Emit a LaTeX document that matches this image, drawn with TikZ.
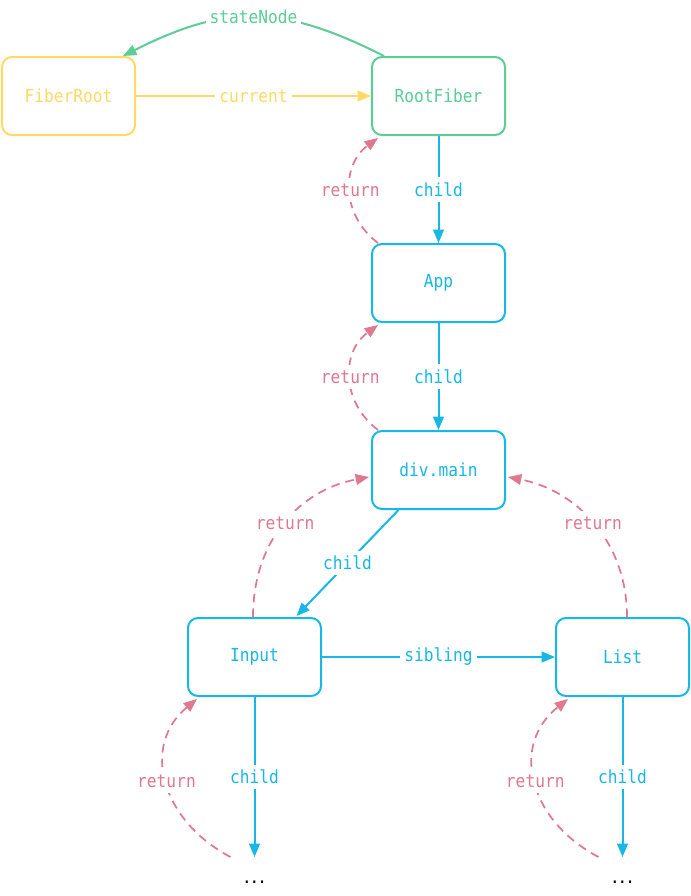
\documentclass[tikz,border=0pt]{standalone}
\usepackage{fontspec}
\setmonofont[FakeStretch=0.9]{DejaVu Sans Mono}
\usetikzlibrary{arrows.meta,calc}
\definecolor{cyel}{HTML}{FFD966}
\definecolor{cgreen}{HTML}{5ACE94}
\definecolor{cblue}{HTML}{17B8E6}
\definecolor{cpink}{HTML}{E07890}
\begin{document}
\begin{tikzpicture}[x=0.75pt,y=-0.75pt,
  every node/.style={font=\ttfamily\fontsize{13.5}{16}\selectfont},
  box/.style={draw, rounded corners=7.5pt, line width=1.5pt, minimum width=99.75pt, minimum height=58.5pt},
  lbl/.style={fill=white, inner xsep=3pt, inner ysep=4pt},
  link/.style={line width=1.5pt, -{Triangle[length=10pt,width=8pt]}},
  ret/.style={link, cpink, line width=1.3pt, dash pattern=on 6.5pt off 4.5pt},
  dots/.style={anchor=base, font=\ttfamily\bfseries\fontsize{10.5}{12}\selectfont}]
\useasboundingbox[fill=white] (0,0) rectangle (691,896);

\node[box, cyel, text=cyel] (fr) at (68.5,96) {FiberRoot};
\node[box, cgreen, text=cgreen] (rf) at (438.5,96) {RootFiber};
\node[box, cblue, text=cblue] (app) at (438.5,283) {App};
\node[box, cblue, text=cblue] (dm) at (438.5,470) {div.main};
\node[box, cblue, text=cblue] (inp) at (254.5,657) {Input};
\node[box, cblue, text=cblue] (lst) at (622.5,657) {List};
\coordinate (e1) at (254.5,857);
\coordinate (e2) at (622.5,857);
\node[dots] (d1) at (254.5,883) {...};
\node[dots] (d2) at (622.5,883) {...};

% stateNode
\draw[link, cgreen] ($(rf.north west)+(13,0)$) .. controls +(-103,-52) and +(103,-52) .. ($(fr.north east)+(-13,0)$)
  node[lbl, midway, text=cgreen] {stateNode};
% current
\draw[link, cyel] (fr.east) -- (rf.west) node[lbl, midway, text=cyel] {current};

% child chain
\draw[link, cblue] (rf.south) -- (app.north) node[lbl, midway, text=cblue] {child};
\draw[link, cblue] (app.south) -- (dm.north) node[lbl, midway, text=cblue] {child};
\draw[link, cblue] ($(dm.south)+(-40,0)$) -- ($(inp.north)+(42,-1)$) node[lbl, midway, text=cblue] {child};
\draw[link, cblue] (inp.east) -- (lst.west) node[lbl, midway, text=cblue] {sibling};
\draw[link, cblue] (inp.south) -- (e1) node[lbl, midway, text=cblue] {child};
\draw[link, cblue] (lst.south) -- (e2) node[lbl, midway, text=cblue] {child};

% returns
\draw[ret] ($(app.north west)+(7,0)$) .. controls +(-37,-28) and +(-37,27) .. ($(rf.south west)+(7,2)$)
  node[lbl, midway, text=cpink] {return};
\draw[ret] ($(dm.north west)+(7,0)$) .. controls +(-37,-28) and +(-37,27) .. ($(app.south west)+(7,2)$)
  node[lbl, midway, text=cpink] {return};
\draw[ret] ($(inp.north)+(-1.5,0)$) .. controls +(0,-77) and +(-69,13) .. ($(dm.west)+(-2,7)$)
  node[lbl, midway, text=cpink] {return};
\draw[ret] ($(lst.north)+(4.5,0)$) .. controls +(0,-77) and +(67,13) .. ($(dm.east)+(2,7)$)
  node[lbl, midway, text=cpink] {return};
\draw[ret] ($(e1)+(-24,0)$) .. controls +(-70,-37) and +(-56,46) .. ($(inp.south west)+(10,2)$)
  node[lbl, midway, text=cpink] {return};
\draw[ret] ($(e2)+(-24,0)$) .. controls +(-70,-37) and +(-58,46) .. ($(lst.south west)+(13,2)$)
  node[lbl, midway, text=cpink] {return};
\end{tikzpicture}
\end{document}
